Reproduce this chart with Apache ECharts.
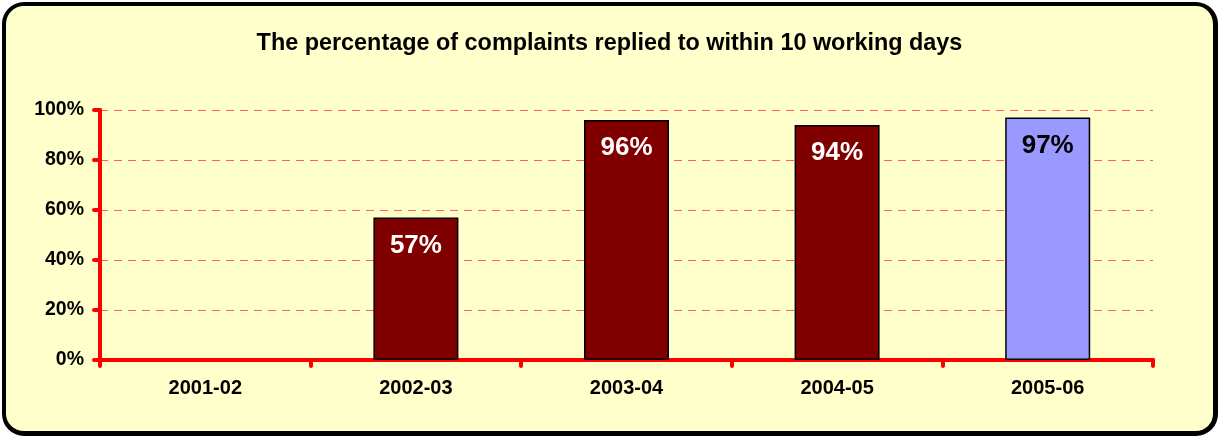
<!DOCTYPE html>
<html>
<head>
<meta charset="utf-8">
<script src="https://cdn.jsdelivr.net/npm/echarts@6/dist/echarts.min.js"></script>
<style>
  html, body { margin: 0; padding: 0; background: #ffffff; }
  #wrap {
    position: absolute; left: 2px; top: 2px; width: 1207px; height: 425px;
    border: 4px solid #000; border-right-width: 5px; border-bottom-width: 5px;
    border-radius: 22px; background: #ffffcc; overflow: hidden;
  }
  #chart { position: absolute; left: -6px; top: -6px; width: 1219px; height: 437px; }
</style>
</head>
<body>
<div id="wrap"><div id="chart"></div></div>
<script>
// data
const categories = ['2001-02', '2002-03', '2003-04', '2004-05', '2005-06']
const percentReplied = [null, 57, 96, 94, 97]
const yTicks = [0, 20, 40, 60, 80, 100]

const barColor = '#800000'
const lastColor = '#9999ff'
const font = 'Liberation Sans, Arial, sans-serif'

const chart = echarts.init(document.getElementById('chart'), null, { renderer: 'canvas' })

const seriesData = percentReplied.map((v, i) => {
  const last = i === percentReplied.length - 1
  return {
    value: v,
    itemStyle: { color: last ? lastColor : barColor },
    label: { color: last ? '#000' : '#fff' }
  }
})

const option = {
  animation: false,
  textStyle: { fontFamily: font },
  title: {
    text: 'The percentage of complaints replied to within 10 working days',
    left: 'center',
    top: 27,
    textStyle: { fontSize: 23.4, fontWeight: 'bold', color: '#000', fontFamily: font }
  },
  grid: { left: 100, right: 66, top: 110, bottom: 77 },
  xAxis: {
    type: 'category',
    data: categories,
    axisLine: { lineStyle: { color: '#ff0000', width: 4, cap: 'round' } },
    axisTick: { show: true, length: 6, lineStyle: { color: '#ff0000', width: 4, cap: 'round' } },
    axisLabel: { color: '#000', fontWeight: 'bold', fontSize: 20, margin: 18 }
  },
  yAxis: {
    type: 'value',
    min: yTicks[0],
    max: yTicks[yTicks.length - 1],
    interval: yTicks[1] - yTicks[0],
    axisLine: { show: true, lineStyle: { color: '#ff0000', width: 4, cap: 'round' } },
    axisTick: { show: true, length: 6, lineStyle: { color: '#ff0000', width: 4, cap: 'round' } },
    axisLabel: { color: '#000', fontWeight: 'bold', fontSize: 19.5, margin: 16, formatter: '{value}%' },
    splitLine: { lineStyle: { color: '#ff6060', type: [8, 6], width: 1 } }
  },
  series: [{
    type: 'bar',
    data: seriesData,
    barWidth: 85,
    itemStyle: { borderColor: '#000', borderWidth: 1.5 },
    label: {
      show: true,
      position: 'insideTop',
      distance: 15,
      formatter: '{c}%',
      fontSize: 26,
      fontWeight: 'bold'
    }
  }]
}

chart.setOption(option)
</script>
</body>
</html>
